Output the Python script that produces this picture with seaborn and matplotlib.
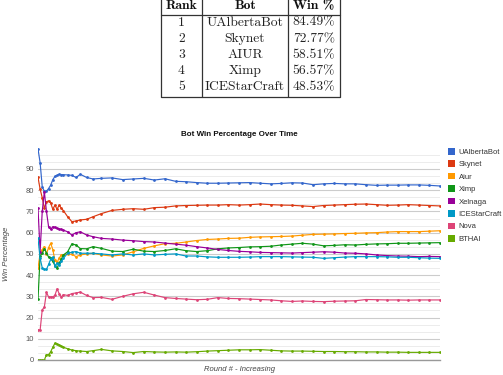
import pandas as pd
import seaborn as sns
import matplotlib.pyplot as plt
from matplotlib.patches import Patch
from matplotlib.ticker import MultipleLocator, FixedLocator, NullLocator

# ranking table
rank = ['1', '2', '3', '4', '5']
rank_bots = ['UAlbertaBot', 'Skynet', 'AIUR', 'Ximp', 'ICEStarCraft']
win_pct = ['84.49%', '72.77%', '58.51%', '56.57%', '48.53%']
table_header = ['Rank', 'Bot', 'Win %']

rounds = list(range(0, 13)) + [14, 16, 18, 20, 23, 26] + list(range(30, 191, 5))

bots = ['UAlbertaBot', 'Skynet', 'Aiur', 'Ximp', 'Xelnaga', 'ICEStarCraft', 'Nova', 'BTHAI']
colors = ['#3366cc', '#dc3912', '#ff9900', '#109618', '#990099', '#0099c6', '#dd4477', '#66aa00']

ualbertabot = [99.5, 93, 81.6, 79.5, 79.5, 80.8, 82.4, 85, 86.5, 87, 87.5, 87.4, 87.3,
               87.2, 87.0, 86.0, 87.5, 86.0, 85.3,
               85.6, 85.8, 85.0, 85.3, 85.6, 84.8, 85.4, 84.2, 84.0, 83.6, 83.3, 83.3, 83.4,
               83.5, 83.6, 83.3, 83.0, 83.2, 83.5, 83.4, 82.6, 83.0, 83.2, 83.0, 83.0, 82.6,
               82.3, 82.4, 82.4, 82.5, 82.5, 82.3, 82.0]
skynet = [86.1, 80.5, 76.5, 71.5, 74.5, 75.0, 74.0, 71.0, 73.0, 71.0, 73.0, 71.5, 70.4,
          67.5, 65.2, 65.5, 66.0, 66.3, 67.5,
          69.0, 70.5, 71.0, 71.3, 71.0, 71.8, 72.0, 72.6, 72.8, 72.9, 73.0, 73.0, 73.2,
          73.0, 73.2, 73.5, 73.2, 73.0, 72.9, 72.6, 72.3, 72.8, 73.0, 73.2, 73.4, 73.5,
          73.2, 72.9, 73.0, 73.2, 73.0, 72.8, 72.6]
aiur = [43.2, 50.3, 52.0, 53.4, 50.0, 53.0, 55.0, 52.0, 47.0, 46.0, 48.0, 49.5, 49.5,
        50.0, 49.8, 48.7, 49.5, 50.0, 50.3,
        49.5, 49.0, 49.5, 51.0, 52.6, 53.8, 54.8, 55.0, 55.6, 56.3, 56.8, 57.0, 57.3,
        57.4, 57.8, 58.0, 58.1, 58.2, 58.4, 58.8, 59.2, 59.3, 59.4, 59.6, 59.7, 59.9,
        60.0, 60.3, 60.5, 60.5, 60.5, 60.7, 60.9]
ximp = [28.6, 49.0, 50.3, 52.5, 50.5, 48.5, 48.0, 46.5, 44.5, 43.2, 45.7, 47.5, 49.5,
        51.0, 54.7, 54.2, 52.5, 52.4, 53.4,
        52.6, 51.3, 51.1, 52.2, 51.3, 51.1, 51.6, 52.4, 51.5, 51.1, 51.5, 52.4, 52.8,
        53.0, 53.3, 53.4, 53.6, 54.2, 54.6, 55.0, 54.6, 53.8, 54.0, 54.3, 54.2, 54.5,
        54.7, 54.8, 55.0, 55.0, 55.1, 55.2, 55.3]
xelnaga = [71.5, 51.0, 70.0, 79.3, 70.0, 62.8, 61.6, 62.8, 62.5, 62.0, 61.8, 61.5, 61.2,
           60.4, 58.9, 60.0, 60.4, 58.9, 58.1,
           57.3, 57.0, 56.5, 56.2, 55.8, 55.6, 55.1, 54.6, 54.1, 53.4, 52.8, 52.1, 51.6,
           51.2, 51.0, 50.7, 50.6, 50.5, 50.4, 50.6, 50.8, 51.0, 50.8, 50.4, 50.3, 50.0,
           49.5, 49.2, 49.0, 48.9, 48.7, 48.8, 48.7]
icestarcraft = [57.3, 47.9, 43.5, 42.7, 42.7, 45.0, 47.5, 48.5, 44.5, 45.5, 44.8, 46.5, 47.9,
                50.3, 50.8, 51.1, 50.3, 50.3, 50.3,
                50.0, 49.5, 50.0, 49.5, 50.0, 49.5, 49.8, 50.0, 49.0, 49.0, 48.6, 48.4, 48.4,
                48.4, 48.5, 48.7, 48.7, 48.7, 48.6, 48.5, 48.4, 47.9, 48.2, 48.5, 48.7, 48.7,
                48.7, 48.6, 48.4, 48.4, 48.2, 48.0, 47.9]
nova = [14.1, 14.1, 23.6, 25.0, 31.9, 29.7, 29.7, 29.7, 30.5, 33.5, 31.3, 29.7, 30.8,
        30.4, 31.3, 31.6, 32.0, 30.4, 29.4,
        29.5, 28.6, 30.0, 31.2, 31.9, 30.6, 29.4, 29.0, 28.7, 28.4, 28.6, 29.4, 29.0,
        28.9, 28.7, 28.5, 28.3, 27.9, 27.6, 27.8, 27.6, 27.5, 27.7, 27.8, 27.9, 28.5,
        28.4, 28.3, 28.3, 28.2, 28.3, 28.3, 28.3]
bthai = [0, 0, 0, 0, 2.5, 2.5, 3.9, 6.0, 7.9, 7.5, 7.1, 6.5, 6.0,
         5.3, 4.7, 4.4, 4.2, 4.0, 4.4,
         5.0, 4.3, 4.0, 3.5, 4.0, 3.8, 3.7, 3.8, 3.7, 3.9, 4.2, 4.4, 4.6,
         4.8, 4.8, 4.9, 4.6, 4.3, 4.2, 4.2, 4.1, 4.0, 4.0, 3.9, 3.9, 3.8,
         3.8, 3.7, 3.7, 3.6, 3.6, 3.6, 3.6]

series = [ualbertabot, skynet, aiur, ximp, xelnaga, icestarcraft, nova, bthai]
frames = [pd.DataFrame({'round': rounds, 'win': vals, 'bot': name}) for name, vals in zip(bots, series)]
df = pd.concat(frames, ignore_index=True)

sns.set_style('white')
plt.rcParams['font.family'] = ['Liberation Sans', 'DejaVu Sans']

W, H = 503, 375
fig = plt.figure(figsize=(W / 100, H / 100), dpi=100)

# --- chart ---
left, right, bottom, top_px = 38, 440, 360, 148.2
ax = fig.add_axes([left / W, (H - bottom) / H, (right - left) / W, (bottom - top_px) / H])
sns.lineplot(data=df, x='round', y='win', hue='bot', hue_order=bots,
             palette=dict(zip(bots, colors)), marker='o', markersize=2.0,
             markeredgewidth=0, linewidth=0.85, legend=False, sort=False, ax=ax)
ax.set_xlim(0, 190)
ax.set_ylim(0, 99.8)
ax.yaxis.set_major_locator(MultipleLocator(10))
ax.yaxis.set_minor_locator(FixedLocator([i * 10 / 3 for i in range(30) if i % 3]))
ax.xaxis.set_major_locator(NullLocator())
ax.grid(axis='y', which='major', color='#cccccc', linewidth=0.8)
ax.grid(axis='y', which='minor', color='#ececec', linewidth=0.7)
ax.set_axisbelow(True)
for s in ['top', 'right', 'left']:
    ax.spines[s].set_visible(False)
ax.spines['bottom'].set_color('#999999')
ax.spines['bottom'].set_linewidth(1.0)
ax.tick_params(axis='y', which='both', length=0, pad=3, labelsize=5.5, labelcolor='#555555')
ax.set_xlabel('Round # - Increasing', fontsize=5.5, style='italic', color='#444444', labelpad=4)
ax.set_ylabel('Win Percentage', fontsize=5.5, style='italic', color='#444444', labelpad=11)
fig.text((left + right) / 2 / W, (H - 135) / H, 'Bot Win Percentage Over Time',
         ha='center', va='center', fontsize=5.8, fontweight='bold', color='#111111')

handles = [Patch(facecolor=c, edgecolor='none', label=b) for b, c in zip(bots, colors)]
fig.legend(handles=handles, loc='upper left', bbox_to_anchor=(448 / W, (H - 148) / H),
           frameon=False, fontsize=5.5, handlelength=0.95, handleheight=0.95,
           handletextpad=0.45, labelspacing=0.59, borderpad=0, borderaxespad=0,
           labelcolor='#333333')

# --- ranking table (drawn in pixel space) ---
tab = fig.add_axes([0, 0, 1, 1])
tab.set_xlim(0, W)
tab.set_ylim(H, 0)
tab.axis('off')
col_edges = [161, 202, 288, 340]
col_centers = [(a + b) / 2 for a, b in zip(col_edges[:-1], col_edges[1:])]
for x in col_edges:
    tab.plot([x, x], [-2, 97.3], color='#333333', lw=0.9, solid_capstyle='butt')
tab.plot([col_edges[0], col_edges[-1]], [14.5, 14.5], color='#333333', lw=0.9)
tab.plot([col_edges[0], col_edges[-1]], [97.3, 97.3], color='#333333', lw=0.9)
for cx, head in zip(col_centers, table_header):
    tab.text(cx, 6, head, ha='center', va='center', fontsize=9.8,
             family=['cmb10', 'DejaVu Serif'], color='#111111')
row_y = [22.7, 39, 55, 71, 87.3]
for y, r, b, w in zip(row_y, rank, rank_bots, win_pct):
    for cx, t in zip(col_centers, [r, b, w]):
        tab.text(cx, y, t, ha='center', va='center', fontsize=9.8,
                 family=['cmr10', 'DejaVu Serif'], color='#222222')

fig.savefig('out.png', dpi=100)
